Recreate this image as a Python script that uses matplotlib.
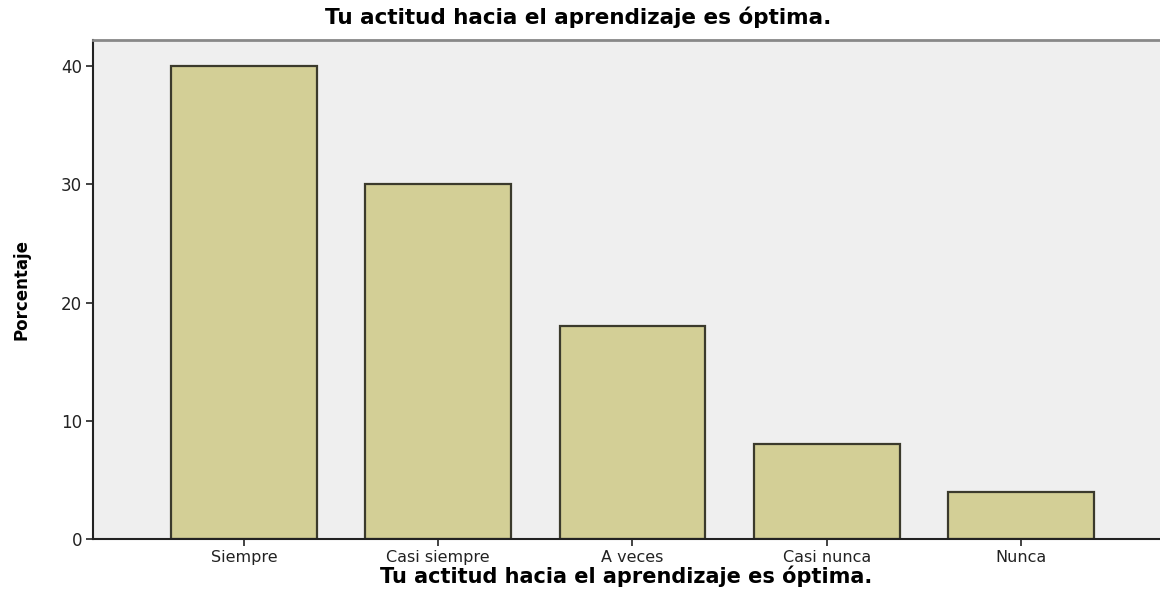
import matplotlib
matplotlib.use("Agg")
import matplotlib.pyplot as plt

# respuestas y porcentajes
categorias = ['Siempre', 'Casi siempre', 'A veces', 'Casi nunca', 'Nunca']
porcentajes = [40, 30, 18, 8, 4]
yticks = [0, 10, 20, 30, 40]

titulo = 'Tu actitud hacia el aprendizaje es óptima.'

fig = plt.figure(figsize=(11.6, 5.95), dpi=100)
ax = fig.add_axes([0.0802, 0.0941, 0.9198, 0.8387])
ax.set_facecolor('#efefef')

x = range(len(categorias))
ax.bar(x, porcentajes, width=0.75, color='#d3cf96', edgecolor='#3b3a2c', linewidth=1.6)

ax.set_xlim(-0.777, 4.716)
ax.set_ylim(0, 42.2)
ax.set_xticks(list(x))
ax.set_xticklabels(categorias, fontsize=11.5, color='#222222', family='DejaVu Sans')
ax.set_yticks(yticks)
ax.set_yticklabels([str(v) for v in yticks], fontsize=12, color='#222222', family='DejaVu Sans')
ax.tick_params(axis='both', direction='out', length=5, width=1.2, color='#222222', pad=3)

ax.spines['right'].set_visible(False)
ax.spines['top'].set_color('#888888')
ax.spines['top'].set_linewidth(2)
ax.spines['left'].set_color('#222222')
ax.spines['left'].set_linewidth(1.5)
ax.spines['bottom'].set_color('#222222')
ax.spines['bottom'].set_linewidth(1.5)

fig.text(578 / 1160, 1 - 17 / 595, titulo, ha='center', va='center',
         fontsize=15.5, fontweight='bold', family='DejaVu Sans')
fig.text(626 / 1160, 1 - 576 / 595, titulo, ha='center', va='center',
         fontsize=15, fontweight='bold', family='DejaVu Sans')
fig.text(22 / 1160, 1 - 290 / 595, 'Porcentaje', ha='center', va='center', rotation=90,
         fontsize=12, fontweight='bold', family=['Liberation Sans Narrow', 'DejaVu Sans'])

fig.savefig('out.png', dpi=100)
